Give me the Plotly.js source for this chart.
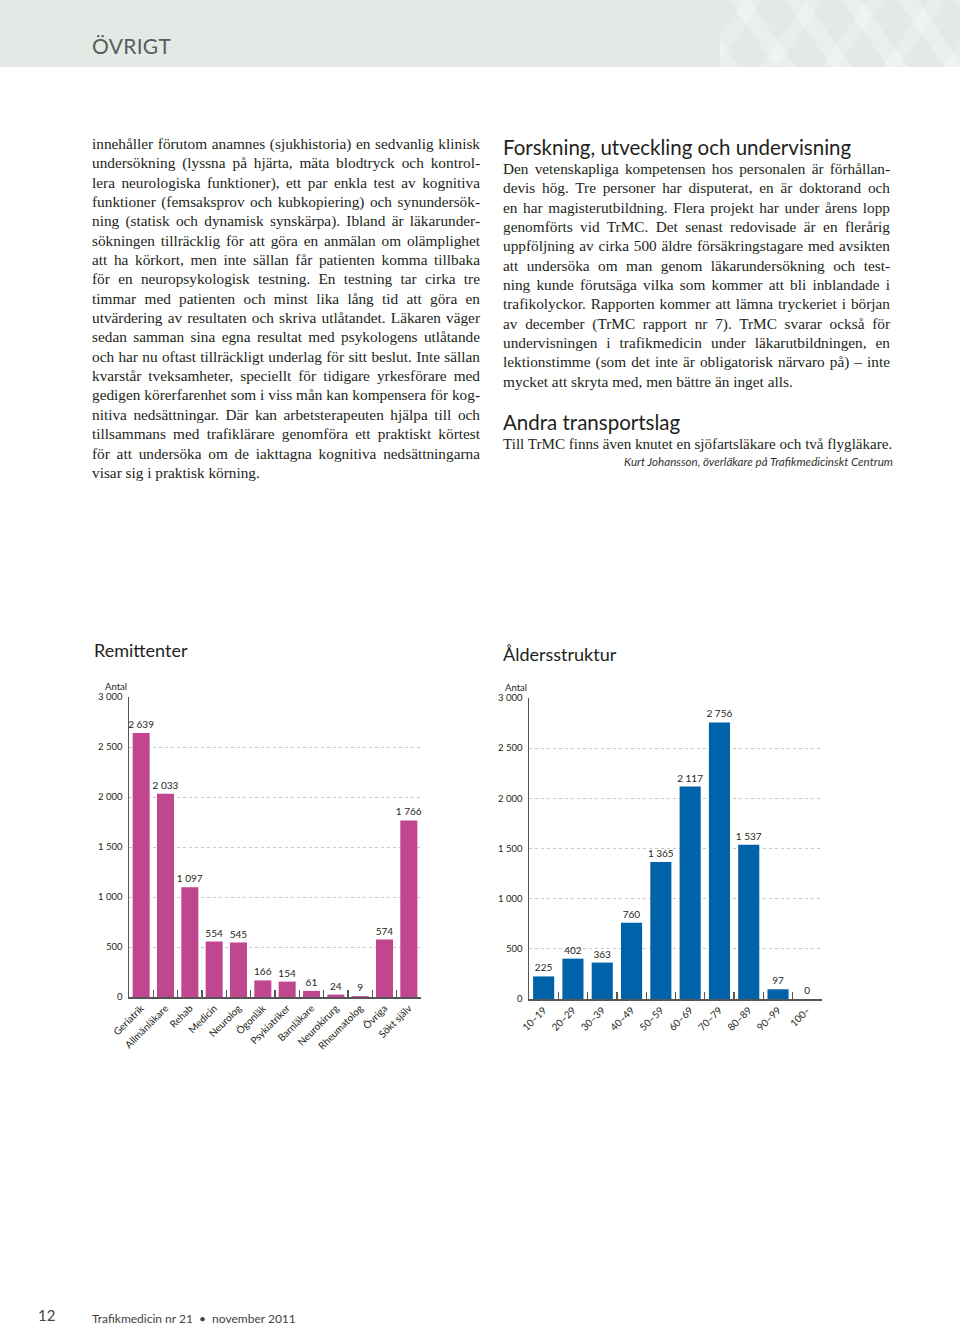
<!DOCTYPE html>
<html>
<head>
<meta charset="utf-8">
<script src="https://cdn.plot.ly/plotly-3.0.1.min.js"></script>
<style>
  html, body { margin: 0; padding: 0; background: #fff; }
  body { width: 960px; height: 1325px; position: relative; overflow: hidden; }
  .hdr { position: absolute; left: 0; top: 0; width: 960px; height: 67px; background: #e3e9e5; overflow: hidden; }
  .hdr .pat { position: absolute; right: 0; top: 0; width: 240px; height: 67px;
    background:
      repeating-linear-gradient(55deg, rgba(255,255,255,0.28) 0 16px, transparent 16px 46px),
      repeating-linear-gradient(-55deg, rgba(255,255,255,0.22) 0 14px, transparent 14px 50px); }
  .hdr .t { position: absolute; left: 92px; top: 33px; font-family: Lato, sans-serif; font-size: 21px; color: #5a5d5a; letter-spacing: 0.3px; }
  .col { position: absolute; font-family: "Liberation Serif", serif; font-size: 15.3px; color: #231f20; }
  .col .l { height: 19.35px; line-height: 19.35px; white-space: nowrap; text-align: justify; text-align-last: justify; }
  .col .l.last { text-align-last: left; }
  .h2 { position: absolute; font-family: Lato, sans-serif; font-size: 20.5px; color: #231f20; }
  .sig { position: absolute; font-family: Lato, sans-serif; font-style: italic; font-size: 11.6px; color: #333; text-align: right; }
  .foot { position: absolute; font-family: Lato, sans-serif; color: #444; }
  .chart { position: absolute; width: 480px; height: 500px; top: 600px; }
</style>
</head>
<body>
<div class="hdr"><div class="pat"></div><div class="t">ÖVRIGT</div></div>

<div class="col" style="left:92px; top:134px; width:388px;">
  <div class="l">innehåller förutom anamnes (sjukhistoria) en sedvanlig klinisk</div>
  <div class="l">undersökning (lyssna på hjärta, mäta blodtryck och kontrol-</div>
  <div class="l">lera neurologiska funktioner), ett par enkla test av kognitiva</div>
  <div class="l">funktioner (femsaksprov och kubkopiering) och synundersök-</div>
  <div class="l">ning (statisk och dynamisk synskärpa). Ibland är läkarunder-</div>
  <div class="l">sökningen tillräcklig för att göra en anmälan om olämplighet</div>
  <div class="l">att ha körkort, men inte sällan får patienten komma tillbaka</div>
  <div class="l">för en neuropsykologisk testning. En testning tar cirka tre</div>
  <div class="l">timmar med patienten och minst lika lång tid att göra en</div>
  <div class="l">utvärdering av resultaten och skriva utlåtandet. Läkaren väger</div>
  <div class="l">sedan samman sina egna resultat med psykologens utlåtande</div>
  <div class="l">och har nu oftast tillräckligt underlag för sitt beslut. Inte sällan</div>
  <div class="l">kvarstår tveksamheter, speciellt för tidigare yrkesförare med</div>
  <div class="l">gedigen körerfarenhet som i viss mån kan kompensera för kog-</div>
  <div class="l">nitiva nedsättningar. Där kan arbetsterapeuten hjälpa till och</div>
  <div class="l">tillsammans med trafiklärare genomföra ett praktiskt körtest</div>
  <div class="l">för att undersöka om de iakttagna kognitiva nedsättningarna</div>
  <div class="l last">visar sig i praktisk körning.</div>
</div>

<div class="h2" style="left:503px; top:135px;">Forskning, utveckling och undervisning</div>
<div class="col" style="left:503px; top:159px; width:387px;">
  <div class="l">Den vetenskapliga kompetensen hos personalen är förhållan-</div>
  <div class="l">devis hög. Tre personer har disputerat, en är doktorand och</div>
  <div class="l">en har magisterutbildning. Flera projekt har under årens lopp</div>
  <div class="l">genomförts vid TrMC. Det senast redovisade är en flerårig</div>
  <div class="l">uppföljning av cirka 500 äldre försäkringstagare med avsikten</div>
  <div class="l">att undersöka om man genom läkarundersökning och test-</div>
  <div class="l">ning kunde förutsäga vilka som kommer att bli inblandade i</div>
  <div class="l">trafikolyckor. Rapporten kommer att lämna tryckeriet i början</div>
  <div class="l">av december (TrMC rapport nr 7). TrMC svarar också för</div>
  <div class="l">undervisningen i trafikmedicin under läkarutbildningen, en</div>
  <div class="l">lektionstimme (som det inte är obligatorisk närvaro på) – inte</div>
  <div class="l last">mycket att skryta med, men bättre än inget alls.</div>
</div>

<div class="h2" style="left:503px; top:410px;">Andra transportslag</div>
<div class="col" style="left:503px; top:435px; width:387px;">
  <div class="l" style="font-size:15.1px;">Till TrMC finns även knutet en sjöfartsläkare och två flygläkare.</div>
</div>
<div class="sig" style="left:493px; top:455px; width:400px;">Kurt Johansson, överläkare på Trafikmedicinskt Centrum</div>

<div id="c1" class="chart" style="left:0px;"></div>
<div id="c2" class="chart" style="left:480px;"></div>

<div class="foot" style="left:38px; top:1306px; font-size:15px;">12</div>
<div class="foot" style="left:92px; top:1311px; font-size:12px;">Trafikmedicin nr 21 &nbsp;•&nbsp; november 2011</div>

<script>
// ---- Data ----
const remittCategories = ["Geriatrik", "Allmänläkare", "Rehab", "Medicin", "Neurolog", "Ögonläk", "Psykiatriker", "Barnläkare", "Neurokirurg", "Rheumatolog", "Övriga", "Sökt själv"];
const remittValues = [2639, 2033, 1097, 554, 545, 166, 154, 61, 24, 9, 574, 1766];

const ageCategories = ["10–19", "20–29", "30–39", "40–49", "50–59", "60–69", "70–79", "80–89", "90–99", "100–"];
const ageValues = [225, 402, 363, 760, 1365, 2117, 2756, 1537, 97, 0];

const yTickVals = [0, 500, 1000, 1500, 2000, 2500, 3000];

const PINK = "#c0478f";
const BLUE = "#0062a8";
const FONT = "Lato, 'Open Sans', sans-serif";
const INK = "#231f20";

function makeChart(div, cats, vals, color, title, titleX, titleY, margin, barWidth) {
  const trace = {
    type: "bar",
    x: cats,
    y: vals,
    marker: { color: color, line: { width: 0 } },
    width: barWidth,
    texttemplate: "%{y:,}",
    textposition: "outside",
    constraintext: "none",
    cliponaxis: false,
    textfont: { family: FONT, size: 10, color: INK },
    hoverinfo: "skip"
  };
  const plotW = 480 - margin.l - margin.r;
  const plotH = 500 - margin.t - margin.b;
  const layout = {
    width: 480, height: 500,
    margin: margin,
    paper_bgcolor: "rgba(0,0,0,0)",
    plot_bgcolor: "rgba(0,0,0,0)",
    separators: ", ",
    showlegend: false,
    bargap: 0.3,
    title: {
      text: title,
      font: { family: FONT, size: 18, color: INK },
      xref: "container", yref: "container",
      x: titleX, xanchor: "left",
      y: titleY, yanchor: "middle"
    },
    xaxis: {
      type: "category",
      range: [-0.5, cats.length - 0.5],
      showline: true, linecolor: "#555", linewidth: 1.5,
      ticks: "inside", tickson: "boundaries", ticklen: 7, tickcolor: "#555", tickwidth: 1.3,
      tickangle: -45,
      tickfont: { family: FONT, size: 10, color: INK },
      showgrid: false, zeroline: false, fixedrange: true
    },
    yaxis: {
      range: [0, 3000],
      tickvals: yTickVals,
      tickformat: ",d",
      showline: true, linecolor: "#555", linewidth: 1.5,
      ticks: "", ticklabelstandoff: 3,
      tickfont: { family: FONT, size: 9.5, color: INK },
      showgrid: true, gridcolor: "#c8c8c8", gridwidth: 1, griddash: "dot",
      zeroline: false, fixedrange: true
    },
    annotations: [{
      text: "Antal", xref: "paper", yref: "paper",
      x: -26 / plotW, y: 1 + 11 / plotH,
      xanchor: "left", yanchor: "middle", showarrow: false,
      font: { family: FONT, size: 9.5, color: INK }
    }]
  };
  Plotly.newPlot(div, [trace], layout, { staticPlot: true, displayModeBar: false });
}

makeChart("c1", remittCategories, remittValues, PINK, "Remittenter",
  94 / 480, 1 - 51 / 500, { l: 129, r: 59, t: 97, b: 103, pad: 0 }, 0.7);
makeChart("c2", ageCategories, ageValues, BLUE, "Åldersstruktur",
  23 / 480, 1 - 55 / 500, { l: 49, r: 138, t: 98, b: 101, pad: 0 }, 0.72);
</script>
</body>
</html>
